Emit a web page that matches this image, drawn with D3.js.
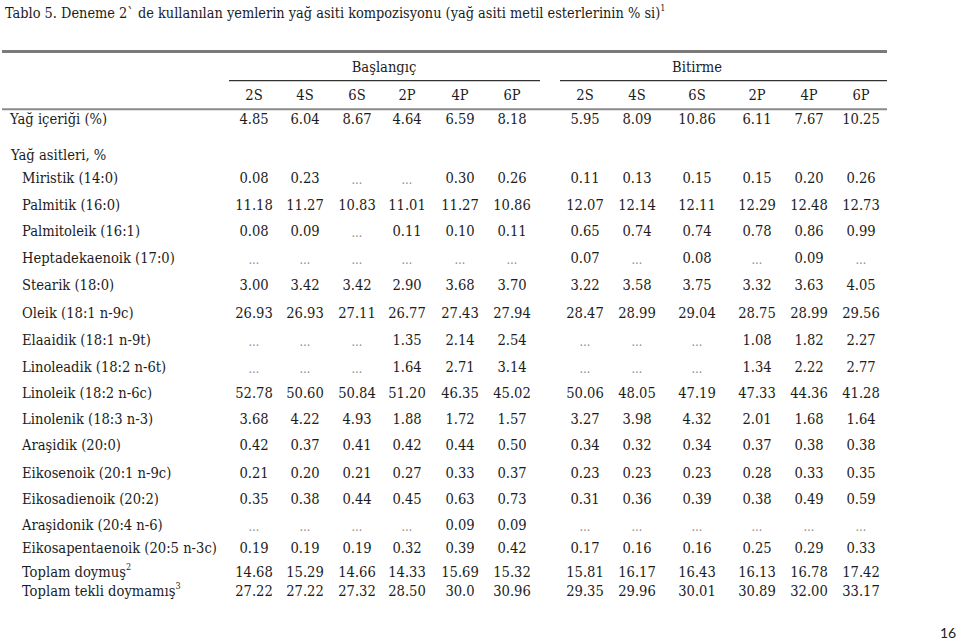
<!DOCTYPE html>
<html><head><meta charset="utf-8">
<script src="https://cdn.jsdelivr.net/npm/d3@7/dist/d3.min.js"></script>
<style>html,body{margin:0;padding:0;background:#fff;}svg{display:block;}
svg text{font-family:"DejaVu Serif Condensed","DejaVu Serif",serif;font-stretch:condensed;}
svg text.pg{font-family:Lato,"Open Sans",sans-serif;font-stretch:normal;}
</style>
</head><body>
<svg id="chart" width="960" height="641"></svg>
<script>
// ---------- DATA ----------
const titleText = "Tablo 5. Deneme 2` de kullanılan yemlerin yağ asiti kompozisyonu (yağ asiti metil esterlerinin % si)";
const titleSup = "1";
const groups = ["Başlangıç", "Bitirme"];
const treatments = ["2S", "4S", "6S", "2P", "4P", "6P"];
const sectionLabel = "Yağ asitleri, %";
const rowLabels = [
  "Yağ içeriği (%)",
  "Miristik (14:0)",
  "Palmitik (16:0)",
  "Palmitoleik (16:1)",
  "Heptadekaenoik (17:0)",
  "Stearik (18:0)",
  "Oleik (18:1 n-9c)",
  "Elaaidik (18:1 n-9t)",
  "Linoleadik (18:2 n-6t)",
  "Linoleik (18:2 n-6c)",
  "Linolenik (18:3 n-3)",
  "Araşidik (20:0)",
  "Eikosenoik (20:1 n-9c)",
  "Eikosadienoik (20:2)",
  "Araşidonik (20:4 n-6)",
  "Eikosapentaenoik (20:5 n-3c)",
  "Toplam doymuş",
  "Toplam tekli doymamış"
];
const rowSups = ["", "", "", "", "", "", "", "", "", "", "", "", "", "", "", "", "2", "3"];
const baslangic = [
  ["4.85", "6.04", "8.67", "4.64", "6.59", "8.18"],
  ["0.08", "0.23", null, null, "0.30", "0.26"],
  ["11.18", "11.27", "10.83", "11.01", "11.27", "10.86"],
  ["0.08", "0.09", null, "0.11", "0.10", "0.11"],
  [null, null, null, null, null, null],
  ["3.00", "3.42", "3.42", "2.90", "3.68", "3.70"],
  ["26.93", "26.93", "27.11", "26.77", "27.43", "27.94"],
  [null, null, null, "1.35", "2.14", "2.54"],
  [null, null, null, "1.64", "2.71", "3.14"],
  ["52.78", "50.60", "50.84", "51.20", "46.35", "45.02"],
  ["3.68", "4.22", "4.93", "1.88", "1.72", "1.57"],
  ["0.42", "0.37", "0.41", "0.42", "0.44", "0.50"],
  ["0.21", "0.20", "0.21", "0.27", "0.33", "0.37"],
  ["0.35", "0.38", "0.44", "0.45", "0.63", "0.73"],
  [null, null, null, null, "0.09", "0.09"],
  ["0.19", "0.19", "0.19", "0.32", "0.39", "0.42"],
  ["14.68", "15.29", "14.66", "14.33", "15.69", "15.32"],
  ["27.22", "27.22", "27.32", "28.50", "30.0", "30.96"]
];
const bitirme = [
  ["5.95", "8.09", "10.86", "6.11", "7.67", "10.25"],
  ["0.11", "0.13", "0.15", "0.15", "0.20", "0.26"],
  ["12.07", "12.14", "12.11", "12.29", "12.48", "12.73"],
  ["0.65", "0.74", "0.74", "0.78", "0.86", "0.99"],
  ["0.07", null, "0.08", null, "0.09", null],
  ["3.22", "3.58", "3.75", "3.32", "3.63", "4.05"],
  ["28.47", "28.99", "29.04", "28.75", "28.99", "29.56"],
  [null, null, null, "1.08", "1.82", "2.27"],
  [null, null, null, "1.34", "2.22", "2.77"],
  ["50.06", "48.05", "47.19", "47.33", "44.36", "41.28"],
  ["3.27", "3.98", "4.32", "2.01", "1.68", "1.64"],
  ["0.34", "0.32", "0.34", "0.37", "0.38", "0.38"],
  ["0.23", "0.23", "0.23", "0.28", "0.33", "0.35"],
  ["0.31", "0.36", "0.39", "0.38", "0.49", "0.59"],
  [null, null, null, null, null, null],
  ["0.17", "0.16", "0.16", "0.25", "0.29", "0.33"],
  ["15.81", "16.17", "16.43", "16.13", "16.78", "17.42"],
  ["29.35", "29.96", "30.01", "30.89", "32.00", "33.17"]
];
const pageNumber = "16";

// ---------- LAYOUT ----------
const svg = d3.select("#chart");
const ink = "#1c1c1c";
const fs = 14.6;
const colKeys = [];
groups.forEach(g => treatments.forEach(t => colKeys.push(g + "|" + t)));
const x = d3.scaleOrdinal()
  .domain(colKeys)
  .range([254, 305, 357, 407, 460, 512, 585, 637, 697, 757, 809, 861]);
const y = d3.scaleOrdinal()
  .domain(rowLabels.concat([sectionLabel]))
  .range([119, 178, 204.5, 230.5, 258, 285, 313, 339.5, 366.5, 392.7, 418.5, 445, 473, 499, 524.5, 548, 572, 590.5, 155]);
const groupSpan = d3.scaleOrdinal().domain(groups).range([[229, 540], [560, 887]]);
const groupCenter = d3.scaleOrdinal().domain(groups).range([384, 697]);
const base = 5.3;

// title
const title = svg.append("text").attr("x", 5).attr("y", 18)
  .attr("font-size", 14.4).attr("fill", ink);
title.append("tspan").text(titleText);
title.append("tspan").attr("font-size", 9).attr("dy", -7).text(titleSup);

// rules
svg.append("line").attr("x1", 2).attr("x2", 887).attr("y1", 51.5).attr("y2", 51.5)
  .attr("stroke", "#7a7a7a").attr("stroke-width", 3);
svg.append("line").attr("x1", 2).attr("x2", 887).attr("y1", 109.3).attr("y2", 109.3)
  .attr("stroke", "#8a8a8a").attr("stroke-width", 2);
svg.selectAll(".gline").data(groups).enter().append("line")
  .attr("x1", d => groupSpan(d)[0]).attr("x2", d => groupSpan(d)[1])
  .attr("y1", 80.7).attr("y2", 80.7).attr("stroke", "#333").attr("stroke-width", 1.2);

// group headers
svg.selectAll(".ghead").data(groups).enter().append("text")
  .attr("x", d => groupCenter(d)).attr("y", 67 + base)
  .attr("text-anchor", "middle").attr("font-size", fs)
  .attr("fill", ink).text(d => d);

// treatment headers
svg.selectAll(".thead").data(colKeys).enter().append("text")
  .attr("x", d => x(d)).attr("y", 95 + base)
  .attr("text-anchor", "middle").attr("font-size", fs)
  .attr("fill", ink).text(d => d.split("|")[1]);

// row labels
const indent = (i) => (i === 0 ? 10 : 22);
const lab = svg.selectAll(".rlab").data(rowLabels).enter().append("text")
  .attr("x", (d, i) => indent(i)).attr("y", d => y(d) + base)
  .attr("font-size", fs).attr("fill", ink);
lab.append("tspan").text(d => d);
lab.append("tspan").attr("font-size", 9).attr("dy", -7).text((d, i) => rowSups[i]);

svg.append("text").attr("x", 11).attr("y", y(sectionLabel) + base)
  .attr("font-size", fs).attr("fill", ink).text(sectionLabel);

// cells
const cells = [];
rowLabels.forEach((r, i) => {
  treatments.forEach((t, j) => {
    cells.push({row: r, col: groups[0] + "|" + t, v: baslangic[i][j]});
    cells.push({row: r, col: groups[1] + "|" + t, v: bitirme[i][j]});
  });
});
svg.selectAll(".cell").data(cells).enter().append("text")
  .attr("x", d => x(d.col)).attr("y", d => y(d.row) + base + (d.v === null ? 1 : 0))
  .attr("text-anchor", "middle")
  .attr("font-size", d => d.v === null ? 12 : fs)
  .attr("fill", d => d.v === null ? "#8a8a8a" : ink)
  .text(d => d.v === null ? "…" : d.v);

// page number
svg.append("text").attr("class", "pg").attr("x", 948).attr("y", 638).attr("text-anchor", "middle")
  .attr("font-size", 14).attr("fill", "#222")
  .text(pageNumber);
</script>
</body></html>
